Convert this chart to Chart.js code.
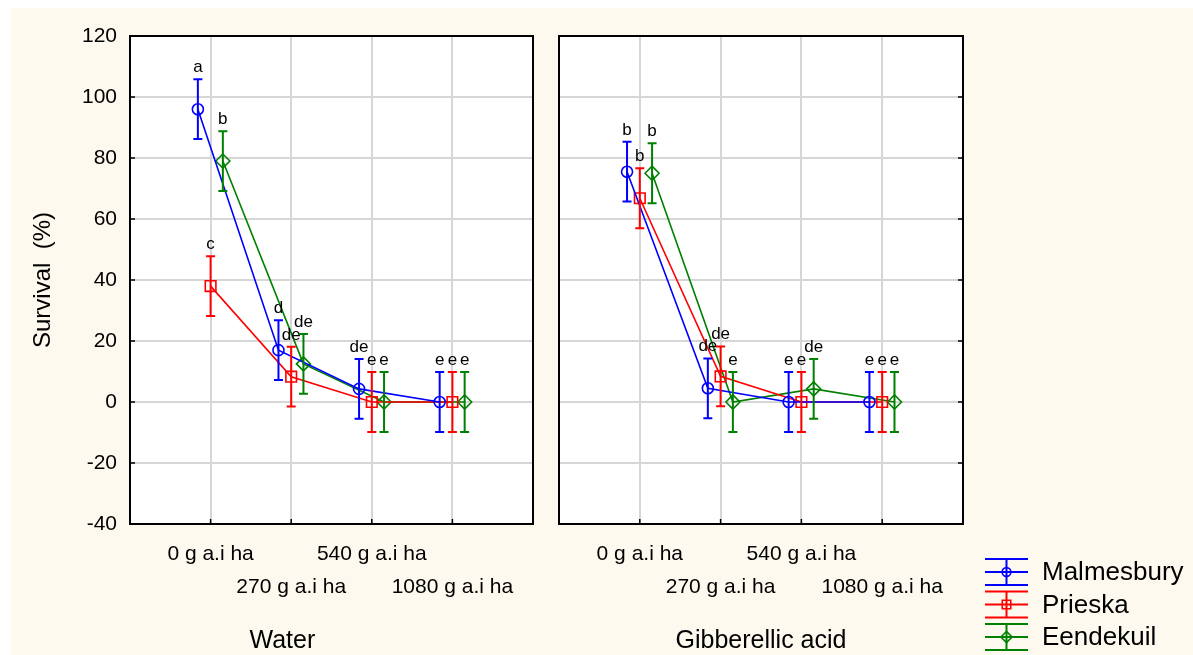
<!DOCTYPE html>
<html>
<head>
<meta charset="utf-8">
<script src="https://cdn.jsdelivr.net/npm/chart.js@4.4.1/dist/chart.umd.min.js"></script>
<style>
  html, body { margin: 0; padding: 0; background: #fff; }
  body { width: 1193px; height: 655px; position: relative; overflow: hidden; }
  #paper { position: absolute; left: 11px; top: 8px; right: 0; bottom: 0; background: #fdf9ee; }
  #waterBox { position: absolute; left: 0; top: 0; width: 545px; height: 655px; }
  #gaBox { position: absolute; left: 545px; top: 0; width: 648px; height: 655px; }
</style>
</head>
<body>
<div id="paper"></div>
<div id="waterBox"><canvas id="waterChart"></canvas></div>
<div id="gaBox"><canvas id="gaChart"></canvas></div>
<script>
const doses = ['0 g a.i ha', '270 g a.i ha', '540 g a.i ha', '1080 g a.i ha'];
const sites = ['Malmesbury', 'Prieska', 'Eendekuil'];

// survival (%), one value per dose
const waterMalmesbury = [96, 17, 4.3, 0];
const waterPrieska = [38, 8.3, 0, 0];
const waterEendekuil = [79, 12.5, 0, 0];

const gaMalmesbury = [75.5, 4.5, 0, 0];
const gaPrieska = [66.8, 8.4, 0, 0];
const gaEendekuil = [75, 0, 4.3, 0];

// half width of the error bars
const errHalf = 9.8;

// significance letters
const waterLetters = [
  ['a', 'd', 'de', 'e'],
  ['c', 'de', 'e', 'e'],
  ['b', 'de', 'e', 'e']
];
const gaLetters = [
  ['b', 'de', 'e', 'e'],
  ['b', 'de', 'e', 'e'],
  ['b', 'e', 'de', 'e']
];

const siteColors = ['#0000ff', '#ff0000', '#008000'];
const siteMarkers = ['circle', 'rect', 'rectRot'];
const markerRadius = [5.5, 7.5, 7];
const dodge = [-0.158, 0, 0.152];

Chart.defaults.font.family = '"Liberation Sans", Arial, sans-serif';
Chart.defaults.color = '#000';

function buildDatasets(seriesList, letterList) {
  return seriesList.map((vals, s) => ({
    label: sites[s],
    data: vals.map((v, i) => ({ x: i + 1 + dodge[s], y: v })),
    letters: letterList[s],
    err: errHalf,
    borderColor: siteColors[s],
    backgroundColor: 'transparent',
    pointStyle: siteMarkers[s],
    pointRadius: markerRadius[s],
    pointBorderWidth: 1.6,
    borderWidth: 1.6,
    tension: 0
  }));
}

const panelPlugin = {
  id: 'panel',
  beforeDraw(chart) {
    const { ctx, chartArea: a } = chart;
    ctx.save();
    ctx.fillStyle = '#fff';
    ctx.fillRect(a.left, a.top, a.right - a.left, a.bottom - a.top);
    ctx.restore();
  },
  afterDatasetsDraw(chart) {
    const ctx = chart.ctx;
    const xs = chart.scales.x, ys = chart.scales.y;
    ctx.save();
    chart.data.datasets.forEach(ds => {
      ctx.strokeStyle = ds.borderColor;
      ctx.lineWidth = 2;
      ds.data.forEach((pt, i) => {
        const px = xs.getPixelForValue(pt.x);
        const top = ys.getPixelForValue(pt.y + ds.err);
        const bot = ys.getPixelForValue(pt.y - ds.err);
        ctx.beginPath();
        ctx.moveTo(px, top); ctx.lineTo(px, bot);
        ctx.moveTo(px - 4.5, top); ctx.lineTo(px + 4.5, top);
        ctx.moveTo(px - 4.5, bot); ctx.lineTo(px + 4.5, bot);
        ctx.stroke();
        ctx.fillStyle = '#000';
        ctx.font = '17px "Liberation Sans", Arial, sans-serif';
        ctx.textAlign = 'center';
        ctx.textBaseline = 'alphabetic';
        ctx.fillText(ds.letters[i], px, top - 7);
      });
    });
    ctx.restore();
  },
  afterDraw(chart, args, opts) {
    const { ctx, chartArea: a } = chart;
    const xs = chart.scales.x, ys = chart.scales.y;
    ctx.save();
    // frame
    ctx.strokeStyle = '#000';
    ctx.lineWidth = 2;
    ctx.strokeRect(a.left, a.top, a.right - a.left, a.bottom - a.top);
    // inner tick marks
    ctx.lineWidth = 1.5;
    ctx.beginPath();
    ys.ticks.forEach(t => {
      const y = ys.getPixelForValue(t.value);
      if (opts.tickSide === 'left') { ctx.moveTo(a.left, y); ctx.lineTo(a.left + 5, y); }
      else { ctx.moveTo(a.right, y); ctx.lineTo(a.right - 5, y); }
    });
    xs.ticks.forEach(t => {
      const x = xs.getPixelForValue(t.value);
      ctx.moveTo(x, a.bottom); ctx.lineTo(x, a.bottom - 5);
    });
    ctx.stroke();
    // group title under the axis
    ctx.fillStyle = '#000';
    ctx.font = '25px "Liberation Sans", Arial, sans-serif';
    ctx.textAlign = 'center';
    ctx.textBaseline = 'middle';
    ctx.fillText(opts.title, xs.getPixelForValue(opts.titleAt), 641);
    // legend
    if (opts.legend) {
      const lg = opts.legend;
      chart.data.datasets.forEach((ds, i) => {
        const cy = lg.y + i * lg.dy;
        const x0 = lg.x, x1 = lg.x + 43, cx = lg.x + 21.5;
        ctx.strokeStyle = ds.borderColor;
        ctx.lineWidth = 2;
        ctx.beginPath();
        ctx.moveTo(x0, cy - 13); ctx.lineTo(x1, cy - 13);
        ctx.moveTo(x0, cy); ctx.lineTo(x1, cy);
        ctx.moveTo(x0, cy + 13); ctx.lineTo(x1, cy + 13);
        ctx.moveTo(cx, cy - 13); ctx.lineTo(cx, cy + 13);
        ctx.stroke();
        ctx.fillStyle = 'rgba(0,0,0,0)';
        ctx.lineWidth = 1.6;
        Chart.helpers.drawPoint(ctx, {
          pointStyle: ds.pointStyle, radius: ds.pointRadius * 0.8, borderWidth: 1.6
        }, cx, cy);
        ctx.fillStyle = '#000';
        ctx.font = '26px "Liberation Sans", Arial, sans-serif';
        ctx.textAlign = 'left';
        ctx.textBaseline = 'middle';
        ctx.fillText(ds.label, lg.x + 57, cy + 1);
      });
    }
    ctx.restore();
  }
};

function makeOptions(showY, yWidth, padding, panelOpts) {
  return {
    responsive: true,
    maintainAspectRatio: false,
    animation: false,
    layout: { padding: padding },
    plugins: {
      legend: { display: false },
      tooltip: { enabled: false },
      panel: panelOpts
    },
    scales: {
      x: {
        type: 'linear',
        min: 0,
        max: 5,
        afterBuildTicks: s => { s.ticks = doses.map((d, i) => ({ value: i + 1 })); },
        afterFit: s => { s.height = 131; },
        border: { display: false },
        grid: { color: '#d6d6d6', lineWidth: 2, drawTicks: false },
        ticks: {
          autoSkip: false,
          maxRotation: 0,
          padding: 14,
          font: { size: 21, lineHeight: '33px' },
          callback: v => {
            const i = Math.round(v) - 1;
            return i % 2 ? ['', doses[i]] : doses[i];
          }
        }
      },
      y: {
        min: -40,
        max: 120,
        afterFit: s => { s.width = yWidth; },
        border: { display: false },
        grid: { color: '#d6d6d6', lineWidth: 2, drawTicks: false },
        ticks: { display: showY, stepSize: 20, padding: 13, font: { size: 21 } },
        title: {
          display: showY,
          text: 'Survival  (%)',
          font: { size: 24 },
          padding: { top: 29 }
        }
      }
    }
  };
}

new Chart(document.getElementById('waterChart'), {
  type: 'line',
  data: { datasets: buildDatasets([waterMalmesbury, waterPrieska, waterEendekuil], waterLetters) },
  options: makeOptions(true, 130, { top: 36, right: 12, left: 0, bottom: 0 },
    { title: 'Water', titleAt: 1.89, tickSide: 'left' }),
  plugins: [panelPlugin]
});

new Chart(document.getElementById('gaChart'), {
  type: 'line',
  data: { datasets: buildDatasets([gaMalmesbury, gaPrieska, gaEendekuil], gaLetters) },
  options: makeOptions(false, 0, { top: 36, right: 230, left: 14, bottom: 0 },
    { title: 'Gibberellic acid', titleAt: 2.5, tickSide: 'right', legend: { x: 440, y: 572, dy: 32.5 } }),
  plugins: [panelPlugin]
});
</script>
</body>
</html>
